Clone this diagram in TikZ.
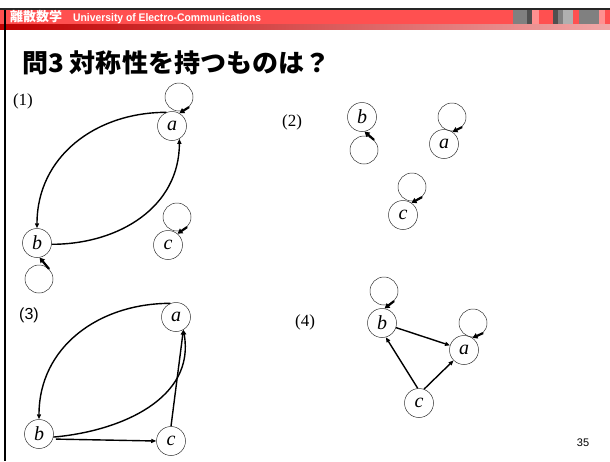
\documentclass[tikz,border=0pt]{standalone}
\usepackage{fontspec}
\setmainfont{Liberation Serif}
\setsansfont{Liberation Sans}
\newfontfamily\jpfont{Noto Sans CJK JP}
\usetikzlibrary{arrows.meta}
\definecolor{barred}{HTML}{FF5050}
\definecolor{darkred}{HTML}{C00000}
\definecolor{lightpink}{HTML}{F0A8A8}
\definecolor{gA}{HTML}{808080}
\definecolor{gB}{HTML}{505050}
\definecolor{gC}{HTML}{B0B0B0}
\definecolor{pk}{HTML}{FF9090}
\tikzset{
  vtx/.style={circle, draw=black!80, line width=0.5pt, minimum size=29pt, inner sep=0pt,
    font=\fontsize{20}{20}\selectfont\itshape},
  loopc/.style={circle, draw=black!80, line width=0.5pt, minimum size=28pt, inner sep=0pt},
  edge/.style={line width=1.4pt, -{Triangle[length=5pt,width=4pt]}},
  loopar/.style={line width=2.2pt, -{Triangle[length=5pt,width=5.5pt]}},
  serlbl/.style={font=\fontsize{17}{17}\selectfont},
  sanslbl/.style={font=\sffamily\fontsize{16}{16}\selectfont},
}
\begin{document}
\begin{tikzpicture}[x=1pt,y=1pt]
\useasboundingbox (0,0) rectangle (610,-461);
\fill[white] (0,0) rectangle (610,-461);
% header
\fill[black!85] (0,-8) rectangle (610,-10);
\fill[barred] (0,-10) rectangle (610,-24);
\shade[left color=darkred, right color=lightpink] (0,-24) rectangle (610,-29);
\fill[gA] (513,-10) rectangle (527,-24);
\fill[gB] (527,-10) rectangle (532,-24);
\fill[pk] (532,-10) rectangle (539,-24);
\fill[gB] (553,-10) rectangle (558,-24);
\fill[gA] (558,-10) rectangle (563,-24);
\fill[gC] (563,-10) rectangle (573,-24);
\fill[gA] (579,-10) rectangle (599,-24);
\fill[pk] (599,-10) rectangle (605,-24);
\fill[black] (4,-10) rectangle (6,-461);
\node[anchor=west, inner sep=0pt, text=white] (hdr) at (10,-17)
  {{\jpfont\bfseries\fontsize{13}{13}\selectfont 離散数学}\hspace{11pt}\scalebox{0.94}[1]{\sffamily\bfseries\fontsize{11}{11}\selectfont University of Electro-Communications}};
\node[anchor=west, inner sep=0pt] (title) at (22,-63)
  {\scalebox{1.02}[1]{\jpfont\bfseries\fontsize{25.5}{25.5}\selectfont 問3 対称性を持つものは？}};
\node[sanslbl, font=\sffamily\fontsize{11}{11}\selectfont] (pg) at (583,-443) {35};

% panel (1)
\node[serlbl] (l1) at (23,-101) {(1)};
\node[vtx] (a1) at (172,-126) {a};
\node[vtx] (b1) at (37,-243) {b};
\node[vtx] (c1) at (168,-245) {c};
\node[loopc] (a1l) at (179,-97) {};
\node[loopc] (b1l) at (39,-279) {};
\node[loopc] (c1l) at (177,-217) {};
\draw[loopar] (a1l.-45) -- (a1.60);
\draw[loopar] (b1l.45) -- (b1.-80);
\draw[loopar] (c1l.-45) -- (c1.50);
\draw[edge] (a1.112) to[out=180,in=90,looseness=1.05] (b1.north);
\draw[edge] (b1.-5) to[out=0,in=-90,looseness=1.05] (a1.-60);

% panel (2)
\node[serlbl] (l2) at (292,-122) {(2)};
\node[vtx] (b2) at (362,-117) {b};
\node[vtx] (a2) at (444,-144) {a};
\node[vtx] (c2) at (403,-215) {c};
\node[loopc] (b2l) at (364,-150) {};
\node[loopc] (a2l) at (452,-117) {};
\node[loopc] (c2l) at (412,-187) {};
\draw[loopar] (b2l.45) -- (b2.-80);
\draw[loopar] (a2l.-45) -- (a2.55);
\draw[loopar] (c2l.-45) -- (c2.55);

% panel (3)
\node[sanslbl] (l3) at (29,-315) {(3)};
\node[vtx] (a3) at (176,-317) {a};
\node[vtx] (b3) at (39,-434) {b};
\node[vtx] (c3) at (171,-441) {c};
\draw[edge] (a3.112) to[out=180,in=90,looseness=1.05] (b3.north);
\draw[edge] (b3.-12) to[out=5,in=-80,looseness=1.05] (a3.-60);
\draw[edge, shorten <=3pt] (b3.-20) -- (c3.west);
\draw[edge] (c3.north) -- (a3.-60);

% panel (4)
\node[serlbl] (l4) at (305,-322) {(4)};
\node[vtx] (b4) at (382,-323) {b};
\node[vtx] (a4) at (464,-350) {a};
\node[vtx] (c4) at (419,-403) {c};
\node[loopc] (b4l) at (384,-291) {};
\node[loopc] (a4l) at (473,-323) {};
\draw[loopar] (b4l.-45) -- (b4.80);
\draw[loopar] (a4l.-45) -- (a4.55);
\draw[edge] (b4) -- (a4);
\draw[edge] (c4.95) -- (b4.-75);
\draw[edge] (c4.70) -- (a4.-135);
\end{tikzpicture}
\end{document}
